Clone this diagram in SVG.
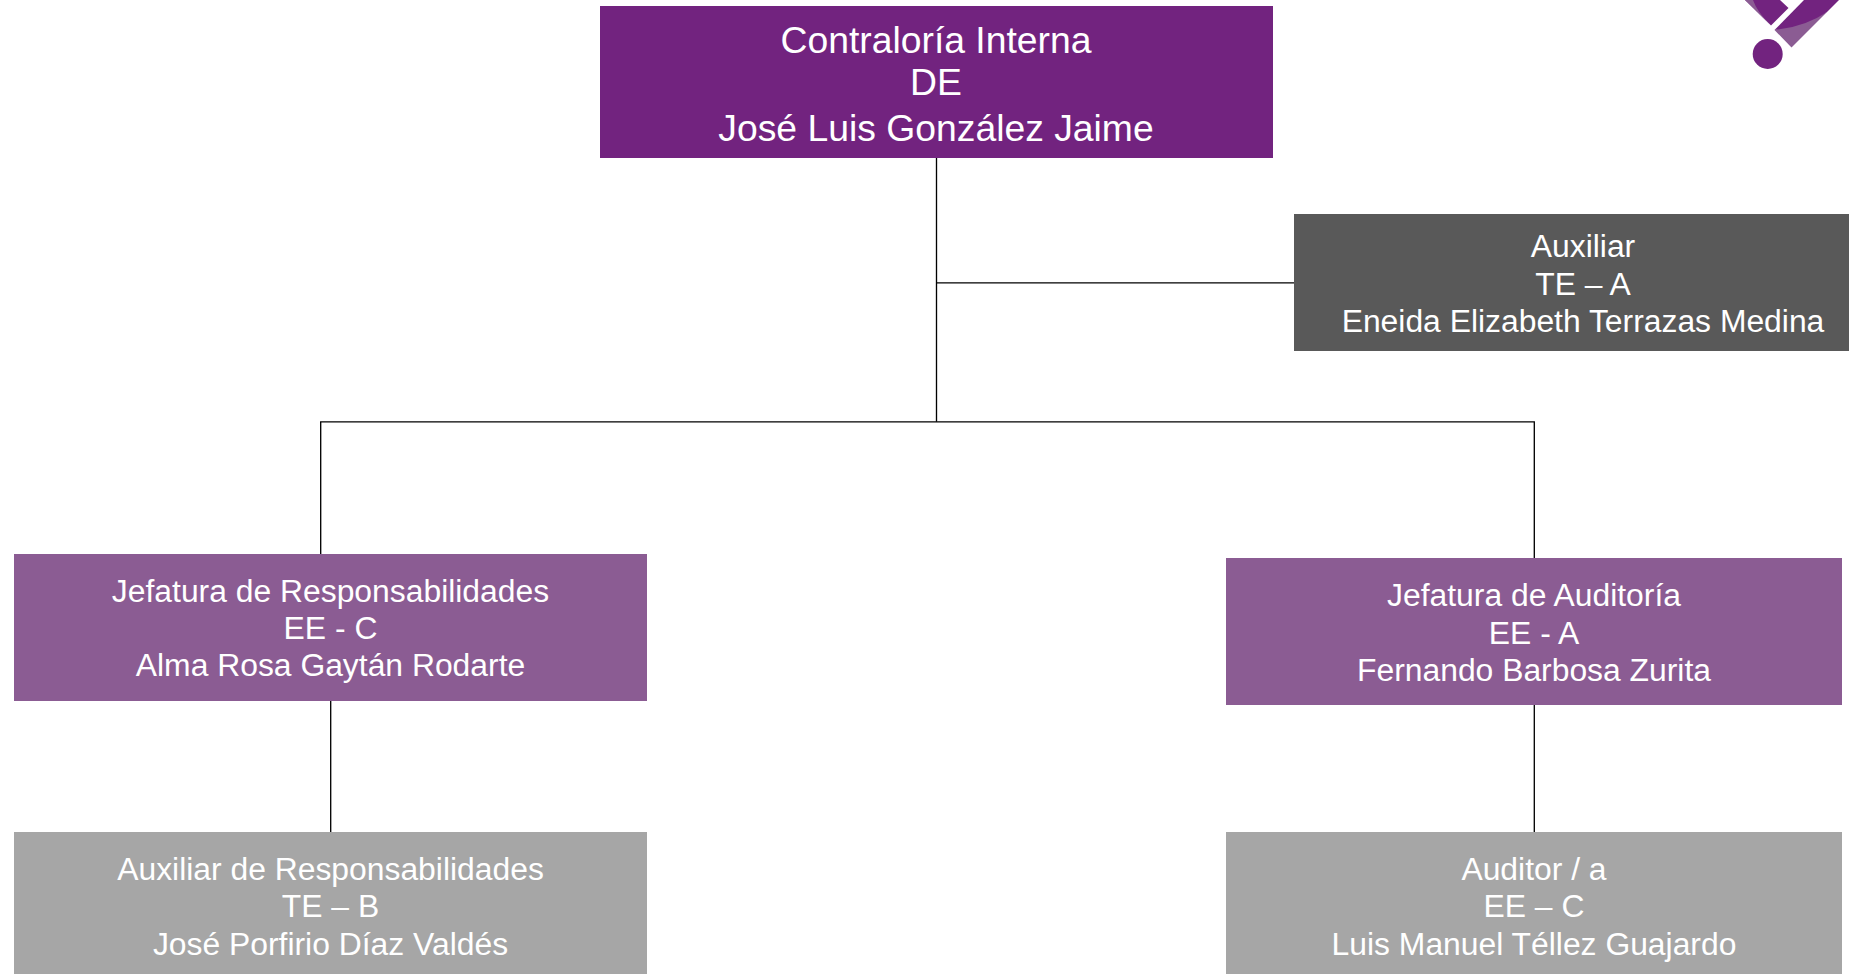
<svg xmlns="http://www.w3.org/2000/svg" width="1849" height="974" viewBox="0 0 1849 974">
<style>
text{font-family:"Liberation Sans",Arial,sans-serif;fill:#fff;text-anchor:middle;font-size:31.85px}
.big{font-size:37.3px}
.c{stroke:#000;stroke-width:1.33;fill:none}
.top{fill:#72237f}.mid{fill:#8b5c93}.low{fill:#a6a6a6}.dark{fill:#595959}
</style>
<rect width="1849" height="974" fill="#fff"/>
<g id="connectors">
<path class="c" d="M936.500 158V421.800"/>
<path class="c" d="M936.500 282.800H1294"/>
<path class="c" d="M320.700 554V421.800H1534.300V558"/>
<path class="c" d="M330.700 701V832"/>
<path class="c" d="M1534.300 705V832"/>
</g>
<g id="logo">
<path fill="#72237f" d="M1745 0L1771 25.500L1788.500 8L1780 0Z"/>
<path fill="#8b5c93" d="M1745 0L1771 25.500Q1757 12 1753 0Z"/>
<path fill="#8b5c93" d="M1774.500 30L1791.500 47.500L1827 12L1800 22Z"/>
<path fill="#72237f" d="M1774.500 30L1804 0H1839L1827 12Q1805 27 1774.500 30Z"/>
<circle cx="1767.700" cy="54" r="15" fill="#72237f"/>
</g>
<g id="node-contraloria">
<rect class="top" x="600" y="6" width="673" height="152"/>
<text class="big" x="936" y="53">Contraloría Interna</text>
<text class="big" x="936" y="95">DE</text>
<text class="big" x="936" y="140.500">José Luis González Jaime</text>
</g>
<g id="node-auxiliar">
<rect class="dark" x="1294" y="214" width="555" height="137"/>
<text x="1583" y="257">Auxiliar</text>
<text x="1583" y="295">TE – A</text>
<text x="1583" y="332">Eneida Elizabeth Terrazas Medina</text>
</g>
<g id="node-jefatura-responsabilidades">
<rect class="mid" x="14" y="554" width="633" height="147"/>
<text x="330.500" y="602">Jefatura de Responsabilidades</text>
<text x="330.500" y="639">EE - C</text>
<text x="330.500" y="676">Alma Rosa Gaytán Rodarte</text>
</g>
<g id="node-jefatura-auditoria">
<rect class="mid" x="1226" y="558" width="616" height="147"/>
<text x="1534" y="606">Jefatura de Auditoría</text>
<text x="1534" y="644">EE - A</text>
<text x="1534" y="681">Fernando Barbosa Zurita</text>
</g>
<g id="node-auxiliar-responsabilidades">
<rect class="low" x="14" y="832" width="633" height="142"/>
<text x="330.500" y="880">Auxiliar de Responsabilidades</text>
<text x="330.500" y="917">TE – B</text>
<text x="330.500" y="955">José Porfirio Díaz Valdés</text>
</g>
<g id="node-auditor">
<rect class="low" x="1226" y="832" width="616" height="142"/>
<text x="1534" y="880">Auditor / a</text>
<text x="1534" y="917">EE – C</text>
<text x="1534" y="955">Luis Manuel Téllez Guajardo</text>
</g>
</svg>
